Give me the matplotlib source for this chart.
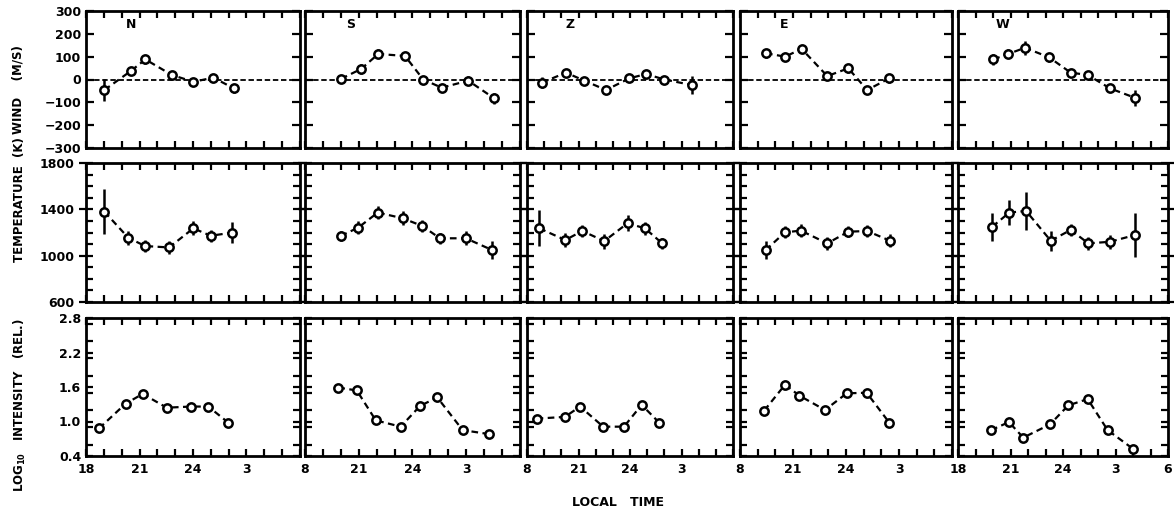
import matplotlib
matplotlib.use("Agg")
import matplotlib.pyplot as plt
from matplotlib.ticker import MultipleLocator, FixedLocator, FixedFormatter

plt.rcParams['font.family'] = ['DejaVu Sans']
plt.rcParams['font.weight'] = 'bold'

# ---------------- data (local time in hours; 24+ = after midnight) ----------------
directions = ["N", "S", "Z", "E", "W"]

# Wind (m/s)
n_wind_t = [19.03, 20.51, 21.33, 22.81, 24.02, 25.14, 26.30]
n_wind = [-46, 37, 88, 20, -10, 8, -39]
n_wind_err = [50, 15, 20, 15, 15, 10, 20]
s_wind_t = [20.01, 21.13, 22.09, 23.58, 24.60, 25.63, 27.11, 28.55]
s_wind = [3, 46, 112, 103, 0, -36, -5, -82]
s_wind_err = [15, 20, 20, 15, 10, 10, 20, 25]
z_wind_t = [18.86, 20.27, 21.34, 22.60, 23.96, 24.93, 26.00, 27.59]
z_wind = [-14, 30, -5, -46, 5, 24, 0, -24]
z_wind_err = [25, 10, 10, 15, 15, 10, 10, 40]
e_wind_t = [19.47, 20.55, 21.49, 22.94, 24.13, 25.20, 26.45]
e_wind = [115, 100, 134, 15, 49, -46, 5]
e_wind_err = [20, 10, 10, 10, 20, 10, 20]
w_wind_t = [20.02, 20.87, 21.83, 23.21, 24.44, 25.41, 26.69, 28.11]
w_wind = [88, 112, 139, 97, 30, 20, -39, -80]
w_wind_err = [25, 20, 30, 20, 10, 10, 15, 35]

# Temperature (K)
n_temp_t = [19.03, 20.37, 21.31, 22.66, 24.02, 24.99, 26.17]
n_temp = [1380, 1155, 1083, 1071, 1236, 1172, 1198]
n_temp_err = [195, 60, 50, 55, 60, 50, 90]
s_temp_t = [19.99, 20.97, 22.06, 23.45, 24.55, 25.53, 26.98, 28.45]
s_temp = [1170, 1242, 1372, 1323, 1256, 1150, 1150, 1048]
s_temp_err = [40, 55, 55, 60, 55, 45, 60, 75]
z_temp_t = [18.72, 20.23, 21.22, 22.50, 23.86, 24.87, 25.88]
z_temp = [1236, 1135, 1213, 1126, 1280, 1236, 1106]
z_temp_err = [155, 60, 55, 65, 70, 55, 50]
e_temp_t = [19.45, 20.55, 21.45, 22.94, 24.13, 25.20, 26.49]
e_temp = [1048, 1202, 1216, 1106, 1207, 1213, 1129]
e_temp_err = [75, 50, 55, 55, 50, 55, 55]
w_temp_t = [19.96, 20.93, 21.89, 23.30, 24.44, 25.45, 26.69, 28.11]
w_temp = [1250, 1372, 1386, 1129, 1222, 1106, 1120, 1178]
w_temp_err = [121, 110, 162, 85, 55, 55, 60, 187]

# log10 intensity (relative)
n_int_t = [18.73, 20.22, 21.18, 22.53, 23.87, 24.86, 25.98]
n_int = [0.88, 1.31, 1.48, 1.24, 1.26, 1.26, 0.98]
s_int_t = [19.86, 20.89, 21.95, 23.34, 24.42, 25.38, 26.80, 28.29]
s_int = [1.59, 1.54, 1.02, 0.91, 1.27, 1.42, 0.85, 0.78]
z_int_t = [18.56, 20.21, 21.09, 22.44, 23.65, 24.68, 25.70]
z_int = [1.05, 1.08, 1.26, 0.91, 0.91, 1.29, 0.98]
e_int_t = [19.37, 20.55, 21.36, 22.81, 24.04, 25.17, 26.45]
e_int = [1.19, 1.64, 1.45, 1.20, 1.49, 1.50, 0.98]
w_int_t = [19.89, 20.91, 21.73, 23.26, 24.30, 25.41, 26.55, 28.02]
w_int = [0.85, 0.99, 0.72, 0.95, 1.28, 1.39, 0.85, 0.52]

x_tick_pos = [18, 21, 24, 27, 30]
x_tick_labels_first = ["18", "21", "24", "3"]
x_tick_labels_mid = ["8", "21", "24", "3"]
x_tick_labels_last = ["18", "21", "24", "3", "6"]
wind_ticks = [-300, -200, -100, 0, 100, 200, 300]
wind_labels = ["\u2212300", "\u2212200", "\u2212100", "0", "100", "200", "300"]
temp_ticks = [600, 1000, 1400, 1800]
temp_labels = ["600", "1000", "1400", "1800"]
int_ticks = [0.4, 1.0, 1.6, 2.2, 2.8]
int_labels = ["0.4", "1.0", "1.6", "2.2", "2.8"]

wind_rows = [(n_wind_t, n_wind, n_wind_err), (s_wind_t, s_wind, s_wind_err),
             (z_wind_t, z_wind, z_wind_err), (e_wind_t, e_wind, e_wind_err),
             (w_wind_t, w_wind, w_wind_err)]
temp_rows = [(n_temp_t, n_temp, n_temp_err), (s_temp_t, s_temp, s_temp_err),
             (z_temp_t, z_temp, z_temp_err), (e_temp_t, e_temp, e_temp_err),
             (w_temp_t, w_temp, w_temp_err)]
int_rows = [(n_int_t, n_int), (s_int_t, s_int), (z_int_t, z_int),
            (e_int_t, e_int), (w_int_t, w_int)]

# ---------------- layout (pixels) ----------------
W, H = 1174, 512
col_l = [86, 305, 527, 740, 958]
col_r = [300, 520, 733, 952, 1168]
row_t = [11, 163, 318]
row_b = [148, 302, 456]

fig = plt.figure(figsize=(W / 100, H / 100), dpi=100)
fig.patch.set_facecolor("white")

FS = 9
line_kw = dict(color="black", linestyle=(0, (3, 2)), linewidth=1.6,
               marker="o", markersize=6, markerfacecolor="white",
               markeredgecolor="black", markeredgewidth=1.8)


def make_ax(r, c):
    ax = fig.add_axes([col_l[c] / W, 1 - row_b[r] / H,
                       (col_r[c] - col_l[c]) / W, (row_b[r] - row_t[r]) / H])
    for sp in ax.spines.values():
        sp.set_linewidth(2.0)
    ax.set_xlim(18, 30)
    ax.xaxis.set_minor_locator(MultipleLocator(1))
    ax.set_xticks(x_tick_pos)
    ax.tick_params(which="both", direction="in", top=True, right=True,
                   width=1.6, labelsize=FS)
    ax.tick_params(which="major", length=5)
    ax.tick_params(which="minor", length=5)
    return ax


for c in range(5):
    # wind
    ax = make_ax(0, c)
    t, v, e = wind_rows[c]
    ax.axhline(0, color="black", linestyle=(0, (3, 1.5)), linewidth=1.3, zorder=1)
    ax.errorbar(t, v, yerr=e, ecolor="black", elinewidth=1.8, capsize=0, zorder=3, **line_kw)
    ax.set_ylim(-300, 300)
    ax.set_yticks(wind_ticks)
    ax.tick_params(axis="y", which="major", length=6)
    ax.set_xticklabels([])
    if c == 0:
        ax.set_yticklabels(wind_labels, fontweight="bold")
    else:
        ax.set_yticklabels([])
    ax.text(0.21, 0.9, directions[c], transform=ax.transAxes, ha="center", va="center",
            fontsize=FS, fontweight="bold")

    # temperature
    ax = make_ax(1, c)
    t, v, e = temp_rows[c]
    ax.errorbar(t, v, yerr=e, ecolor="black", elinewidth=1.8, capsize=0, zorder=3, **line_kw)
    ax.set_ylim(600, 1800)
    ax.set_yticks(temp_ticks)
    ax.yaxis.set_minor_locator(MultipleLocator(100))
    ax.tick_params(axis="y", which="major", direction="inout", length=10)
    ax.tick_params(axis="y", which="minor", length=5)
    ax.set_xticklabels([])
    if c == 0:
        ax.set_yticklabels(temp_labels, fontweight="bold")
    else:
        ax.set_yticklabels([])

    # intensity
    ax = make_ax(2, c)
    t, v = int_rows[c]
    ax.plot(t, v, zorder=3, **line_kw)
    ax.set_ylim(0.4, 2.8)
    ax.set_yticks(int_ticks)
    ax.yaxis.set_minor_locator(MultipleLocator(0.3))
    ax.tick_params(axis="y", which="minor", length=5)
    if c == 0:
        ax.set_yticklabels(int_labels, fontweight="bold")
        ax.set_xticks(x_tick_pos[:4])
        ax.set_xticklabels(x_tick_labels_first, fontweight="bold")
    elif c == 4:
        ax.set_xticks(x_tick_pos)
        ax.set_xticklabels(x_tick_labels_last, fontweight="bold")
        ax.set_yticklabels([])
    else:
        ax.set_xticks(x_tick_pos[:4])
        ax.set_xticklabels(x_tick_labels_mid, fontweight="bold")
        ax.set_yticklabels([])
    ax.tick_params(axis="x", pad=5)

# axis titles
fig.text(18 / W, 1 - 90 / H, "WIND    (M/S)", rotation=90, ha="center", va="center",
         fontsize=8.5, fontweight="bold")
fig.text(20 / W, 1 - 200 / H, "TEMPERATURE  (K)", rotation=90, ha="center", va="center",
         fontsize=8.5, fontweight="bold")
fig.text(20 / W, 1 - 405 / H, r"LOG$_{\mathbf{10}}$   INTENSITY   (REL.)", rotation=90,
         ha="center", va="center", fontsize=8.5, fontweight="bold")
fig.text(618 / W, 1 - 502 / H, "LOCAL   TIME", ha="center", va="center",
         fontsize=FS, fontweight="bold")

fig.savefig("out.png", dpi=100, facecolor="white")
